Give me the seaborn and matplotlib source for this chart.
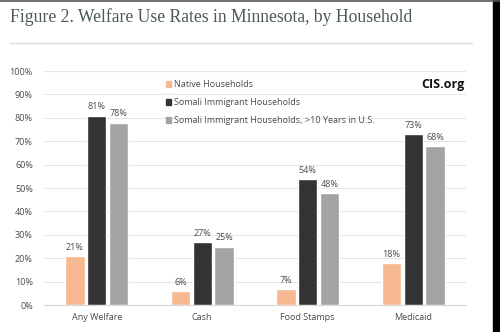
import matplotlib
matplotlib.use("Agg")
import matplotlib.pyplot as plt
import matplotlib.patches as mpatches
import matplotlib.lines as mlines
import seaborn as sns
import pandas as pd

categories = ["Any Welfare", "Cash", "Food Stamps", "Medicaid"]
groups = ["Native Households", "Somali Immigrant Households",
          "Somali Immigrant Households, >10 Years in U.S."]
native = [21, 6, 7, 18]
somali = [81, 27, 54, 73]
somali_10yr = [78, 25, 48, 68]
y_ticks = [0, 10, 20, 30, 40, 50, 60, 70, 80, 90, 100]

colors = ["#f6b991", "#333333", "#a3a3a3"]

rows = []
for g, vals in zip(groups, [native, somali, somali_10yr]):
    for c, v in zip(categories, vals):
        rows.append({"category": c, "group": g, "value": v})
df = pd.DataFrame(rows)

sns.set_theme(style="white")
plt.rcParams["font.family"] = ["Open Sans", "DejaVu Sans"]

fig = plt.figure(figsize=(5.0, 3.32), dpi=100)
fig.patch.set_facecolor("white")
ax = fig.add_axes([0.088, 0.081, 0.844, 0.705])

sns.barplot(data=df, x="category", y="value", hue="group", order=categories,
            hue_order=groups, palette=colors, width=0.62, gap=0.12,
            saturation=1, legend=False, ax=ax)

label_color = "#4a4a4a"
for cont, vals in zip(ax.containers, [native, somali, somali_10yr]):
    ax.bar_label(cont, labels=[f"{v}%" for v in vals], padding=3,
                 fontsize=6.5, color=label_color)

ax.set_ylim(0, 100)
ax.set_xlim(-0.5, 3.5)
ax.set_yticks(y_ticks)
ax.set_yticklabels([f"{t}%" for t in y_ticks], fontsize=6.5, color=label_color)
ax.tick_params(axis="x", labelsize=6.5, colors=label_color, length=0, pad=6)
ax.tick_params(axis="y", length=0, pad=8)
ax.set_xlabel("")
ax.set_ylabel("")
ax.yaxis.grid(True, color="#e6e6e6", linewidth=0.8)
ax.set_axisbelow(True)
for s in ["top", "right", "left"]:
    ax.spines[s].set_visible(False)
ax.spines["bottom"].set_color("#d9d9d9")
ax.spines["bottom"].set_linewidth(0.8)

handles = [mpatches.Patch(color=c, label=g) for c, g in zip(colors, groups)]
leg = ax.legend(handles=handles, loc="upper left", bbox_to_anchor=(0.27, 0.995),
                frameon=False, fontsize=6.5, handlelength=0.6, handleheight=0.6,
                handletextpad=0.3, labelspacing=1.0, labelcolor=label_color)

fig.text(0.843, 0.745, "CIS.org", fontsize=9, fontweight="bold", color="#111111",
         ha="left", va="center")

fig.text(0.02, 0.948, "Figure 2. Welfare Use Rates in Minnesota, by Household",
         fontsize=12.7, family=["Liberation Serif", "DejaVu Serif"],
         color="#4b5858", ha="left", va="center")
fig.add_artist(mlines.Line2D([0.02, 0.944], [0.871, 0.871],
                             color="#dcdcdc", linewidth=1.0))

# framing edges
fig.add_artist(mpatches.Rectangle((0.986, 0), 0.014, 1, color="black",
                                  transform=fig.transFigure))
fig.add_artist(mlines.Line2D([0, 1], [0.997, 0.997], color="#555555",
                             linewidth=1.2))

fig.savefig("out.png", dpi=100)
